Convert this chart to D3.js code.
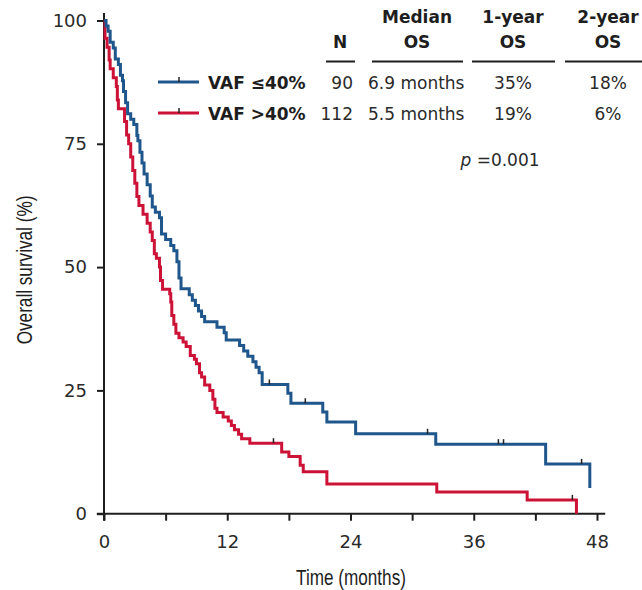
<!DOCTYPE html>
<html>
<head>
<meta charset="utf-8">
<script src="https://cdn.jsdelivr.net/npm/d3@7"></script>
<style>
  body { margin: 0; background: #fff; }
  svg { display: block; font-family: "DejaVu Sans", sans-serif; }
</style>
</head>
<body>
<div class="KMPlot"></div>
<script>
// survival steps (months, % surviving after the step)
const lowTimes = [0, 0.2, 0.4, 0.6, 0.9, 1.1, 1.4, 1.6, 1.8, 1.9, 2.1, 2.3, 2.6, 2.9, 3.2, 3.3, 3.5, 3.7, 3.9, 4.2, 4.5, 4.7, 5.0, 5.4, 5.6, 6.0, 6.5, 6.8, 7.1, 7.3, 7.5, 8.3, 8.6, 8.9, 9.2, 9.5, 9.8, 11.0, 11.7, 11.9, 13.2, 13.6, 14.0, 14.5, 14.8, 15.1, 15.4, 17.9, 18.2, 21.3, 21.7, 24.5, 32.3, 43.0, 47.3];
const lowSurv  = [100, 98.9, 97.8, 95.6, 94.4, 92.2, 91.1, 88.9, 87.8, 85.6, 83.3, 81.1, 80.0, 78.9, 76.7, 75.6, 73.3, 71.1, 68.9, 66.7, 64.4, 62.2, 61.1, 60.0, 56.7, 55.6, 54.4, 53.3, 51.1, 47.8, 45.6, 44.4, 43.3, 42.2, 41.1, 40.0, 38.9, 37.8, 36.7, 35.2, 34.1, 33.0, 31.9, 30.8, 29.7, 28.6, 26.2, 24.4, 22.4, 20.6, 18.6, 16.2, 14.1, 10.1, 5.2];
const lowCensor = [16.1, 19.6, 31.5, 38.4, 38.9, 46.5];

const highTimes = [0, 0.1, 0.3, 0.5, 0.6, 0.9, 1.2, 1.3, 1.4, 2.0, 2.2, 2.4, 2.6, 2.8, 3.0, 3.2, 3.4, 3.8, 4.2, 4.5, 4.7, 4.9, 5.1, 5.4, 5.5, 5.7, 6.4, 6.5, 6.6, 6.8, 7.0, 7.3, 7.7, 8.0, 8.4, 8.8, 9.0, 9.3, 9.5, 9.8, 10.3, 10.6, 10.8, 11.0, 11.6, 12.1, 12.4, 12.7, 13.1, 13.4, 14.2, 17.3, 18.0, 19.1, 19.4, 21.7, 32.4, 41.2, 46.0];
const highSurv  = [100, 96.4, 94.6, 92.0, 90.2, 88.4, 86.6, 83.9, 82.1, 79.5, 76.8, 75.0, 72.3, 69.6, 67.0, 64.3, 62.5, 60.7, 58.9, 57.1, 55.4, 52.7, 51.8, 50.0, 47.3, 45.5, 44.6, 42.9, 40.2, 38.4, 36.6, 35.7, 34.8, 33.9, 32.1, 31.3, 30.4, 28.6, 27.7, 26.1, 25.0, 23.2, 21.4, 20.5, 19.6, 18.8, 17.9, 17.0, 16.1, 15.2, 14.3, 12.5, 11.6, 9.8, 8.5, 6.0, 4.4, 2.8, 0];
const highCensor = [16.5, 45.6];

const groupNames = ["VAF \u226440%", "VAF >40%"];
const groupN = ["90", "112"];
const medianOS = ["6.9 months", "5.5 months"];
const oneYearOS = ["35%", "19%"];
const twoYearOS = ["18%", "6%"];
const pValue = "=0.001";

const xTicks = [0, 6, 12, 18, 24, 30, 36, 42, 48];
const yTicks = [0, 25, 50, 75, 100];

const width = 642;
const height = 590;
const blue = "#1f568c";
const red = "#cc1237";
const ink = "#1e1e1e";

const svg = d3.select(".KMPlot").append("svg")
  .attr("width", width)
  .attr("height", height);

const x = d3.scaleLinear().domain([0, 48]).range([104, 597]);
const y = d3.scaleLinear().domain([0, 100]).range([513.7, 20.5]);

// axes
const xAxis = d3.axisBottom(x)
  .tickValues(xTicks)
  .tickFormat(d => d % 12 === 0 ? d : "")
  .tickSize(7)
  .tickSizeOuter(0)
  .tickPadding(15);

svg.append("g")
  .attr("transform", `translate(0,${y(0)})`)
  .call(xAxis)
  .call(g => g.select(".domain").remove())
  .call(g => g.selectAll(".tick line").attr("stroke", ink).attr("stroke-width", 2))
  .call(g => g.selectAll(".tick text")
    .attr("fill", "#2a2a2a")
    .style("font-size", "18px")
    .style("font-family", "DejaVu Sans"));

const yAxis = d3.axisLeft(y)
  .tickValues(yTicks)
  .tickSize(7)
  .tickSizeOuter(0)
  .tickPadding(10);

svg.append("g")
  .attr("transform", `translate(${x(0)},0)`)
  .call(yAxis)
  .call(g => g.select(".domain").remove())
  .call(g => g.selectAll(".tick line").attr("stroke", ink).attr("stroke-width", 2))
  .call(g => g.selectAll(".tick text")
    .attr("fill", "#2a2a2a")
    .style("font-size", "18px")
    .style("font-family", "DejaVu Sans"));

// axis lines cross at the origin
svg.append("line")
  .attr("x1", x(-0.7)).attr("x2", x(48.8))
  .attr("y1", y(0)).attr("y2", y(0))
  .attr("stroke", ink).attr("stroke-width", 2);
svg.append("line")
  .attr("x1", x(0)).attr("x2", x(0))
  .attr("y1", y(0) + 7).attr("y2", y(101.5))
  .attr("stroke", ink).attr("stroke-width", 2);

// axis titles, condensed look
svg.append("text")
  .attr("transform", `translate(351,585) scale(0.78,1)`)
  .attr("text-anchor", "middle")
  .style("font-family", "Liberation Sans, Arial, sans-serif")
  .style("font-size", "22px")
  .attr("fill", ink)
  .text("Time (months)");

svg.append("text")
  .attr("transform", `translate(32,270) rotate(-90) scale(0.78,1)`)
  .attr("text-anchor", "middle")
  .style("font-family", "Liberation Sans, Arial, sans-serif")
  .style("font-size", "22px")
  .attr("fill", ink)
  .text("Overall survival (%)");

// curves
const line = d3.line()
  .x(d => x(d[0]))
  .y(d => y(d[1]))
  .curve(d3.curveStepAfter);

function stepAt(times, surv, t) {
  const i = d3.bisectRight(times, t) - 1;
  return surv[Math.max(0, i)];
}

const curves = [
  { times: lowTimes, surv: lowSurv, censor: lowCensor, color: blue },
  { times: highTimes, surv: highSurv, censor: highCensor, color: red }
];

curves.slice().reverse().forEach(c => {
  const pts = c.times.map((t, i) => [t, c.surv[i]]);
  svg.append("path")
    .attr("d", line(pts))
    .attr("fill", "none")
    .attr("stroke", c.color)
    .attr("stroke-width", 3)
    .attr("stroke-linejoin", "miter");

  svg.append("g")
    .selectAll("line")
    .data(c.censor)
    .enter()
    .append("line")
    .attr("x1", d => x(d))
    .attr("x2", d => x(d))
    .attr("y1", d => y(stepAt(c.times, c.surv, d)))
    .attr("y2", d => y(stepAt(c.times, c.surv, d)) - 5)
    .attr("stroke", "#222")
    .attr("stroke-width", 1.5);
});

// legend
const legendRows = [83, 114];
[blue, red].forEach((col, i) => {
  const ly = legendRows[i] - 1;
  svg.append("line")
    .attr("x1", 158).attr("x2", 199)
    .attr("y1", ly).attr("y2", ly)
    .attr("stroke", col).attr("stroke-width", 3);
  svg.append("line")
    .attr("x1", 179).attr("x2", 179)
    .attr("y1", ly).attr("y2", ly - 5)
    .attr("stroke", "#222").attr("stroke-width", 1.5);
  svg.append("text")
    .attr("x", 208).attr("y", legendRows[i] + 6)
    .style("font-size", "17px")
    .style("font-weight", "bold")
    .attr("fill", ink)
    .text(groupNames[i]);
});

// table header
const header = svg.append("g")
  .style("font-size", "17px")
  .style("font-weight", "bold")
  .attr("fill", ink)
  .attr("text-anchor", "middle");

header.append("text").attr("x", 340).attr("y", 48).text("N");
header.append("text").attr("x", 417).attr("y", 23).text("Median");
header.append("text").attr("x", 417).attr("y", 48).text("OS");
header.append("text").attr("x", 513).attr("y", 23).text("1-year");
header.append("text").attr("x", 513).attr("y", 48).text("OS");
header.append("text").attr("x", 608).attr("y", 23).text("2-year");
header.append("text").attr("x", 608).attr("y", 48).text("OS");

[[326, 355], [372, 463], [472, 555], [565, 642]].forEach(s => {
  svg.append("line")
    .attr("x1", s[0]).attr("x2", s[1])
    .attr("y1", 61.5).attr("y2", 61.5)
    .attr("stroke", ink).attr("stroke-width", 2);
});

// table rows
legendRows.forEach((ry, i) => {
  const by = ry + 6;
  const row = svg.append("g")
    .style("font-size", "17px")
    .attr("fill", "#2a2a2a");
  row.append("text").attr("x", 353).attr("y", by).attr("text-anchor", "end").text(groupN[i]);
  row.append("text").attr("x", 368).attr("y", by).text(medianOS[i]);
  row.append("text").attr("x", 513).attr("y", by).attr("text-anchor", "middle").text(oneYearOS[i]);
  row.append("text").attr("x", 608).attr("y", by).attr("text-anchor", "middle").text(twoYearOS[i]);
});

// p value
const p = svg.append("text")
  .attr("x", 500).attr("y", 166)
  .attr("text-anchor", "middle")
  .style("font-size", "17px")
  .attr("fill", "#2a2a2a");
p.append("tspan").style("font-style", "italic").text("p");
p.append("tspan").text(" " + pValue);
</script>
</body>
</html>
